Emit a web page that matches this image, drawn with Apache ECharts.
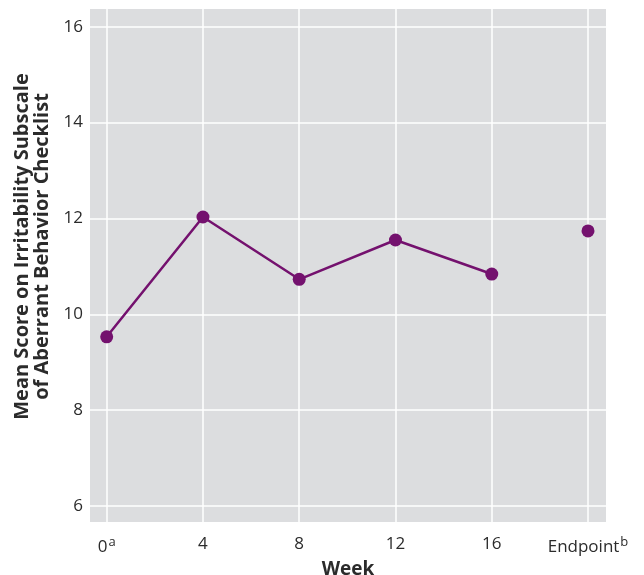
<!DOCTYPE html>
<html>
<head>
<meta charset="utf-8">
<script src="https://cdn.jsdelivr.net/npm/echarts@6/dist/echarts.min.js"></script>
<style>
  html, body { margin: 0; padding: 0; background: #fff; }
  #chart { width: 644px; height: 575px; }
</style>
</head>
<body>
<div id="chart"></div>
<script>
// week categories drawn as index positions on a value axis
const weekLabels = ['0', '4', '8', '12', '16', 'Endpoint']
const weekSup = ['a', '', '', '', '', 'b']
const weekPos = [0, 1, 2, 3, 4, 5]
const weekScores = [9.53, 12.03, 10.73, 11.55, 10.84]
const endpointScore = 11.74
const yTicks = [6, 8, 10, 12, 14, 16]

const purple = '#74116e'
const font = 'Open Sans'
const textColor = '#2b2b2b'

const chart = echarts.init(document.getElementById('chart'))
chart.setOption({
  animation: false,
  grid: {
    left: 90,
    right: 38,
    top: 9,
    bottom: 53,
    containLabel: false,
    outerBoundsMode: 'none',
    show: true,
    backgroundColor: '#dcdddf',
    borderWidth: 0
  },
  xAxis: {
    type: 'value',
    min: -0.1735,
    max: 5.187,
    axisLine: { show: false },
    axisTick: { show: false },
    splitLine: { show: false },
    axisLabel: {
      margin: 14,
      customValues: weekPos,
      formatter: function (v) {
        const i = Math.round(v)
        return weekSup[i] ? weekLabels[i] + '{sup|' + weekSup[i] + '}' : weekLabels[i]
      },
      color: textColor,
      fontFamily: font,
      fontSize: 17,
      rich: {
        sup: { fontSize: 13, fontFamily: font, color: textColor, padding: [0, 0, 9, 1] }
      }
    },
    name: 'Week',
    nameLocation: 'middle',
    nameGap: 37,
    nameTextStyle: { fontFamily: font, fontSize: 19, fontWeight: 'bold', color: textColor }
  },
  yAxis: {
    type: 'value',
    min: 5.666,
    max: 16.37,
    axisLine: { show: false },
    axisTick: { show: false },
    splitLine: { show: false },
    axisLabel: {
      margin: 7,
      customValues: yTicks,
      color: textColor,
      fontFamily: font,
      fontSize: 17
    },
    name: 'Mean Score on Irritability Subscale\nof Aberrant Behavior Checklist',
    nameLocation: 'middle',
    nameGap: 36,
    nameTextStyle: {
      fontFamily: font, fontSize: 20, fontWeight: 'bold', color: textColor,
      lineHeight: 20, padding: [0, 0, 0, 38]
    }
  },
  series: [
    {
      type: 'line',
      data: weekScores.map((v, i) => [i, v]),
      symbol: 'circle',
      symbolSize: 13,
      lineStyle: { color: purple, width: 2.5 },
      itemStyle: { color: purple },
      z: 3
    },
    {
      type: 'scatter',
      data: [[5, endpointScore]],
      symbolSize: 13,
      itemStyle: { color: purple, opacity: 1 },
      z: 3
    },
    {
      // white gridlines at the tick values
      type: 'line',
      data: [],
      z: 1,
      markLine: {
        z: 1,
        silent: true,
        symbol: 'none',
        label: { show: false },
        lineStyle: { color: '#ffffff', width: 1.5, type: 'solid' },
        data: yTicks.map(v => ({ yAxis: v })).concat(weekPos.map(v => ({ xAxis: v })))
      }
    }
  ]
})
</script>
</body>
</html>
